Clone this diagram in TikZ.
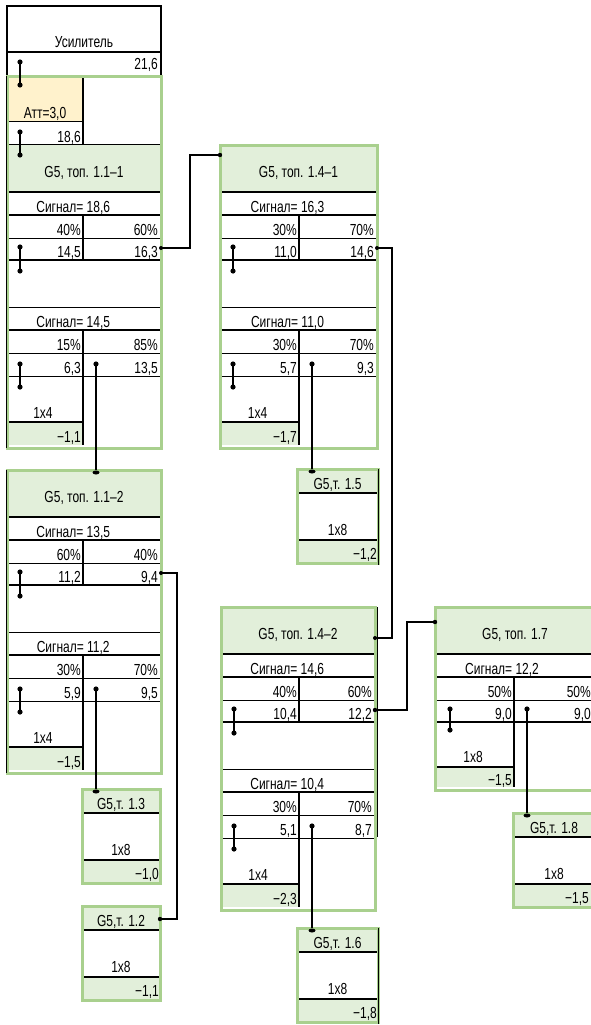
\documentclass[tikz,border=0pt]{standalone}
\usepackage{fontspec}
\setmainfont{Liberation Sans}[FakeStretch=0.75]
\definecolor{ghead}{RGB}{226,239,218}
\definecolor{gbord}{RGB}{169,208,142}
\definecolor{attf}{RGB}{255,242,204}
\tikzset{
  tl/.style={line width=1.5pt, black},
  tn/.style={line width=0.8pt, black},
  cn/.style={line width=1.1pt, black},
  gb/.style={draw=gbord, line width=3pt},
  tx/.style={inner sep=0pt, font=\fontsize{16}{16}\selectfont},
  re/.style={tx, anchor=base east},
  ce/.style={tx, anchor=base},
}
\newcommand\dpair[3]{%
  \draw[tl] (#1,#2) -- (#1,#3);
  \fill (#1,#2) circle (2.6pt);
  \fill (#1,#3) circle (2.6pt);}
\newcommand\bigframe[3]{%
  \fill[ghead] (0,0) rectangle (#1,47);
  \fill[ghead] (0,277) rectangle (#2,300);
  \foreach \yy in {47,70,115,185}{\draw[tl] (0,\yy) -- (#1,\yy);}
  \foreach \yy in {93,162,208,231}{\draw[tn] (0,\yy) -- (#1,\yy);}
  \draw[tl] (0,277) -- (#2,277);
  \draw[tl] (#2,70) -- (#2,115);
  \draw[tl] (#2,185) -- (#2,300);
  \draw[gb] (0,#3) rectangle (#1,303);
  \dpair{13}{102}{126}\dpair{13}{219}{242}
  \fill (#2+13,219) circle (2.6pt);
  \coordinate (\pfx-o1) at (#1,103);
  \coordinate (\pfx-o2) at (#2+13,219);
  \coordinate (\pfx-t) at (0,#3);
  \coordinate (\pfx-in) at (0,10);
  \coordinate (\pfx-r) at (#1,31);}
\newcommand\bigtxtA[8]{%
  \node[ce] (\pfx-hdr) at (#1/2,32) {#3};
  \node[ce] (\pfx-s1) at (0.43*#1,67) {#4};
  \node[re] (\pfx-p1) at (#2-2,90) {#5};
  \node[re] (\pfx-p2) at (#1-3,90) {#6};
  \node[re] (\pfx-v1) at (#2-2,112) {#7};
  \node[re] (\pfx-v2) at (#1-3,112) {#8};}
\newcommand\bigtxtB[9]{%
  \node[ce] (\pfx-s2) at (0.43*#1,182) {#3};
  \node[re] (\pfx-p3) at (#2-2,205) {#4};
  \node[re] (\pfx-p4) at (#1-3,205) {#5};
  \node[re] (\pfx-v3) at (#2-2,228) {#6};
  \node[re] (\pfx-v4) at (#1-3,228) {#7};
  \node[ce] (\pfx-lb) at (#2/2-2,273) {#8};
  \node[re] (\pfx-ls) at (#2-2,297) {#9};}
\newcommand\smallbox[7]{%
  \begin{scope}[shift={(#2,#3)}]
  \fill[ghead] (0,0) rectangle (#4,24);
  \fill[ghead] (0,71) rectangle (#4,94);
  \draw[tl] (0,24) -- (#4,24);
  \draw[tl] (0,71) -- (#4,71);
  \draw[gb] (0,0) rectangle (#4,94);
  \node[ce] (#1-hdr) at (#4/2,20) {#5};
  \node[ce] (#1-lb) at (#4/2,66) {1x8};
  \node[re] (#1-ls) at (#7,90) {#6};
  \coordinate (#1-t) at (0,0);
  \coordinate (#1-r) at (#4,13);
  \end{scope}}
\newcommand\tick[1]{\fill (#1) ++(0,2.5) ellipse (3.5pt and 2pt);}
\begin{document}
\begin{tikzpicture}[x=1pt,y=-1pt]
\fill[white] (0,0) rectangle (591,1025);
\useasboundingbox (0,0) rectangle (591,1025);

% ---------- amplifier + box 1.1-1 ----------
\draw[tl] (7,76) -- (7,6) -- (161,6) -- (161,76);
\draw[tl] (7,52) -- (161,52);
\node[ce] (amp) at (84,48) {Усилитель};
\node[re] (amp-v) at (158,70) {21,6};
\fill[attf] (7,76) rectangle (83,121);
\draw[tn] (7,121) -- (83,121);
\draw[tl] (83,76) -- (83,145);
\draw[tl] (7,145) -- (161,145);
\node[ce] (att) at (45,118) {Атт=3,0};
\node[re] (att-v) at (81,142) {18,6};
\begin{scope}[shift={(7,145)}]
  \def\pfx{b1}
  \bigframe{154}{76}{-69}
  \bigtxtA{154}{76}{G5, топ. 1.1–1}{Сигнал= 18,6}{40\%}{60\%}{14,5}{16,3}
  \bigtxtB{154}{76}{Сигнал= 14,5}{15\%}{85\%}{6,3}{13,5}{1x4}{−1,1}
\end{scope}
\draw[tn] (6,76) -- (6,448);
\dpair{20}{62}{85}
\dpair{20}{132}{155}

% ---------- box 1.4-1 ----------
\begin{scope}[shift={(220,145)}]
  \def\pfx{b2}
  \bigframe{157}{79}{0}
  \bigtxtA{157}{79}{G5, топ. 1.4–1}{Сигнал= 16,3}{30\%}{70\%}{11,0}{14,6}
  \bigtxtB{157}{79}{Сигнал= 11,0}{30\%}{70\%}{5,7}{9,3}{1x4}{−1,7}
\end{scope}

% ---------- box 1.1-2 ----------
\begin{scope}[shift={(7,470)}]
  \def\pfx{b3}
  \bigframe{154}{76}{0}
  \bigtxtA{154}{76}{G5, топ. 1.1–2}{Сигнал= 13,5}{60\%}{40\%}{11,2}{9,4}
  \bigtxtB{154}{76}{Сигнал= 11,2}{30\%}{70\%}{5,9}{9,5}{1x4}{−1,5}
\end{scope}
\draw[tn] (6,470) -- (6,773);

% ---------- box 1.4-2 ----------
\begin{scope}[shift={(221,607)}]
  \def\pfx{b4}
  \bigframe{154}{78}{0}
  \bigtxtA{154}{78}{G5, топ. 1.4–2}{Сигнал= 14,6}{40\%}{60\%}{10,4}{12,2}
  \bigtxtB{154}{78}{Сигнал= 10,4}{30\%}{70\%}{5,1}{8,7}{1x4}{−2,3}
\end{scope}
\draw[tn] (377,607) -- (377,837);

% ---------- box 1.7 ----------
\begin{scope}[shift={(435,607)}]
  \fill[ghead] (0,0) rectangle (160,47);
  \fill[ghead] (0,160) rectangle (79,180);
  \foreach \yy in {47,70,115}{\draw[tl] (0,\yy) -- (160,\yy);}
  \draw[tn] (0,93) -- (160,93);
  \draw[tl] (0,160) -- (79,160);
  \draw[tl] (79,70) -- (79,180);
  \draw[gb] (0,0) rectangle (160,183);
  \dpair{15}{102}{123}
  \fill (92,102) circle (2.6pt);
  \node[ce] (b5-hdr) at (80,32) {G5, топ. 1.7};
  \node[ce] (b5-s1) at (67,67) {Сигнал= 12,2};
  \node[re] (b5-p1) at (77,90) {50\%};
  \node[re] (b5-p2) at (156,90) {50\%};
  \node[re] (b5-v1) at (77,112) {9,0};
  \node[re] (b5-v2) at (156,112) {9,0};
  \node[ce] (b5-lb) at (38,155) {1x8};
  \node[re] (b5-ls) at (77,178) {−1,5};
  \coordinate (b5-o2) at (92,102);
  \coordinate (b5-in) at (0,15);
\end{scope}

% ---------- small boxes ----------
\smallbox{s15}{297}{469}{81}{G5,т. 1.5}{−1,2}{80}
\smallbox{s13}{82}{789}{78}{G5,т. 1.3}{−1,0}{77}
\smallbox{s12}{82}{906}{78}{G5,т. 1.2}{−1,1}{77}
\smallbox{s16}{297}{928}{81}{G5,т. 1.6}{−1,8}{80}
\smallbox{s18}{513}{813}{82}{G5,т. 1.8}{−1,5}{76}
\draw[tn] (378,469) -- (378,565);
\draw[tn] (378,928) -- (378,1024);

% ---------- connectors ----------
\draw[cn] (b1-o1) -- ++(29,0) |- (b2-in);
\fill (b1-o1) circle (2pt); \fill (b2-in) circle (2.2pt);
\draw[cn] (b2-o1) -- ++(15,0) |- (b4-r);
\fill (b2-o1) circle (2pt); \fill (b4-r) circle (2pt);
\draw[cn] (b4-o1) -- ++(32,0) |- (b5-in);
\fill (b4-o1) circle (2.2pt); \fill (b5-in) circle (2.2pt);
\draw[cn] (b3-o1) -- ++(16,0) |- (s12-r);
\fill (b3-o1) circle (2pt); \fill (s12-r) circle (2.2pt);

\coordinate (e1) at (b1-o2 |- b3-t);
\coordinate (e2) at (b2-o2 |- s15-t);
\coordinate (e3) at (b3-o2 |- s13-t);
\coordinate (e4) at (b4-o2 |- s16-t);
\coordinate (e5) at (b5-o2 |- s18-t);
\draw[cn] (b1-o2) -- (e1); \tick{e1}
\draw[cn] (b2-o2) -- (e2); \tick{e2}
\draw[cn] (b3-o2) -- (e3); \tick{e3}
\draw[cn] (b4-o2) -- (e4); \tick{e4}
\draw[cn] (b5-o2) -- (e5); \tick{e5}
\end{tikzpicture}
\end{document}
